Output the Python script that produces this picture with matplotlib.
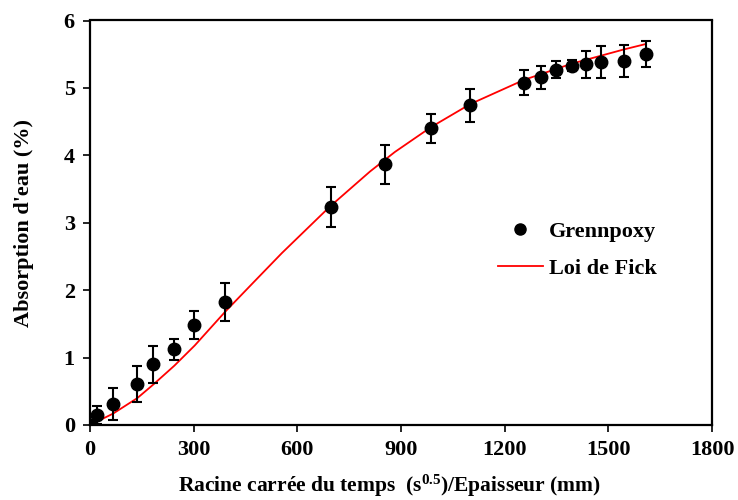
import matplotlib
matplotlib.use("Agg")
import matplotlib.pyplot as plt
from matplotlib.lines import Line2D

plt.rcParams['font.family'] = ['Liberation Serif', 'DejaVu Serif']
plt.rcParams['font.weight'] = 'bold'
plt.rcParams['mathtext.default'] = 'regular'

# measured points (Grennpoxy)
x_mes = [0, 20, 67, 136, 182, 243, 301, 390, 697, 853, 987, 1100,
         1256, 1305, 1348, 1395, 1436, 1479, 1545, 1609]
y_mes = [0, 0.15, 0.31, 0.61, 0.90, 1.12, 1.48, 1.82, 3.23, 3.87, 4.40, 4.74,
         5.08, 5.16, 5.27, 5.33, 5.35, 5.38, 5.40, 5.50]
err = [0, 0.13, 0.24, 0.27, 0.27, 0.15, 0.21, 0.28, 0.30, 0.29, 0.22, 0.25,
       0.19, 0.17, 0.13, 0.08, 0.20, 0.24, 0.24, 0.19]

# Fick model curve
x_fick = [0, 67, 137, 183, 244, 303, 391, 470, 555, 694, 810, 882,
          987, 1100, 1256, 1394, 1544, 1607]
y_fick = [0, 0.17, 0.40, 0.60, 0.88, 1.18, 1.68, 2.10, 2.55, 3.24, 3.76, 4.05,
          4.42, 4.76, 5.12, 5.36, 5.57, 5.65]

fig = plt.figure(figsize=(7.38, 5), dpi=100)
ax = fig.add_axes([0.122, 0.15, 0.843, 0.809])

ax.errorbar(x_mes, y_mes, yerr=err, fmt='o', color='black', ms=9,
            ecolor='black', elinewidth=1.5, capsize=3.6, capthick=1.5, zorder=3)
ax.plot(x_fick, y_fick, color='red', lw=1.3, zorder=2)

ax.set_xlim(0, 1800)
ax.set_ylim(0, 6)
ax.set_xticks([0, 300, 600, 900, 1200, 1500, 1800])
ax.set_yticks([0, 1, 2, 3, 4, 5, 6])
ax.tick_params(direction='out', length=5, width=1.2, labelsize=16, pad=6)
for s in ax.spines.values():
    s.set_linewidth(1.6)

ax.set_xlabel('Racine carrée du temps  (s$^{0.5}$)/Epaisseur (mm)',
              fontsize=15.5, fontweight='bold')
ax.set_ylabel("Absorption d'eau (%)", fontsize=16, fontweight='bold')
ax.xaxis.set_label_coords(0.481, -0.118)
ax.yaxis.set_label_coords(-0.09, 0.5)

handles = [Line2D([], [], ls='none', marker='o', color='black', ms=8),
           Line2D([], [], color='red', lw=1.3)]
ax.legend(handles, ['Grennpoxy', 'Loi de Fick'], loc='upper left',
          bbox_to_anchor=(0.624, 0.553), frameon=False, handlelength=2.0,
          handletextpad=0.3, labelspacing=0.75,
          prop={'weight': 'bold', 'size': 16})

fig.savefig('out.png', dpi=100)
